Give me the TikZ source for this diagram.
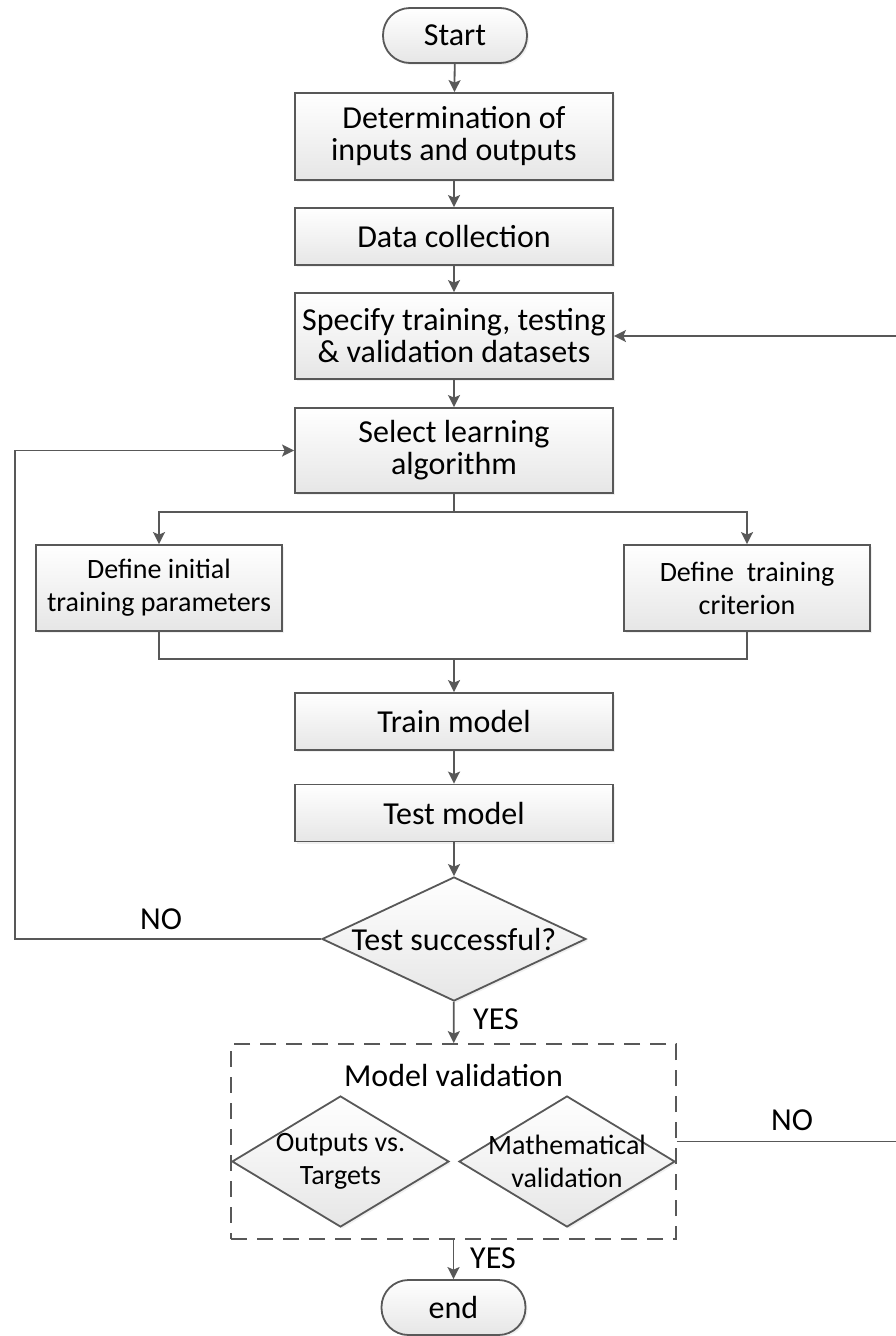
\documentclass[tikz,border=0pt]{standalone}
\usepackage{fontspec}
\setmainfont{Carlito}
\usepackage[dvipsnames,svgnames,x11names]{xcolor}
\usepackage{tikz}
\usetikzlibrary{shapes, arrows.meta, positioning, shadows}
\definecolor{lineG}{RGB}{88,88,88}
\definecolor{fillG}{RGB}{230,230,230}
\tikzset{
  shadeW/.style={draw=lineG, line width=1.8pt, top color=white, bottom color=fillG,
                 drop shadow={shadow xshift=2pt, shadow yshift=-2pt, opacity=0.12}},
  termW/.style={shadeW, rectangle, rounded corners=27pt, inner sep=2pt,
                minimum width=144pt, minimum height=55pt,
                font=\fontsize{32}{32}\selectfont},
  boxW/.style={shadeW, rectangle, inner sep=2pt, align=center,
               minimum width=318pt, font=\fontsize{32}{32}\selectfont},
  boxS/.style={shadeW, rectangle, inner sep=2pt, align=center,
               minimum width=246pt, minimum height=86pt,
               font=\fontsize{28}{33}\selectfont},
  decW/.style={shadeW, diamond, inner sep=0pt},
  valD/.style={rectangle, draw=lineG, line width=1.8pt, dash pattern=on 16pt off 10pt,
               minimum width=445pt, minimum height=195pt, inner sep=0pt},
  txt/.style={inner sep=0pt, font=\fontsize{32}{32}\selectfont},
  txtS/.style={inner sep=0pt, align=center, font=\fontsize{28}{33}\selectfont},
  line/.style={draw=lineG, line width=1.8pt},
  flow/.style={line, -{Stealth[length=12pt, width=12pt, inset=2.5pt]}},
}

\begin{document}
\begin{tikzpicture}[x=1pt, y=1pt]
    \useasboundingbox (0,0) rectangle (895,-1336);
    %% Main column
    \node[termW] (st) at (455,-35.5) {Start};
    \node[boxW, minimum height=87pt] (det) at (454,-136.5) {Determination of\\inputs and outputs};
    \node[boxW, minimum height=57pt] (dat) at (454,-236.5) {Data collection};
    \node[boxW, minimum height=86pt] (spec) at (454,-336) {Specify training, testing\\\& validation datasets};
    \node[boxW, minimum height=85pt] (sel) at (454,-450.5) {Select learning\\algorithm};
    %% Parameter boxes
    \node[boxS] (dfA) at (159,-588) {Define initial\\training parameters};
    \node[boxS] (dfB) at (747,-588) {Define~ training\\criterion};
    \node[boxW, minimum height=57pt] (trn) at (454,-721.5) {Train model};
    \node[boxW, minimum height=57pt] (tst) at (454,-813) {Test model};
    %% Decision
    \node[decW, minimum width=264pt, minimum height=124pt] (dec) at (454,-939) {};
    \node[txt] (decT) at (dec) {Test successful?};
    %% Validation block
    \node[valD] (val) at (453.5,-1141.5) {};
    \node[txt] (valT) at (453.5,-1075) {Model validation};
    \node[decW, minimum width=217pt, minimum height=131pt] (vA) at (340.5,-1161.5) {};
    \node[txtS] (vAT) at (vA) {Outputs vs.\\Targets};
    \node[decW, minimum width=216pt, minimum height=131pt] (vB) at (567,-1161.5) {};
    \node[txtS] (vBT) at (vB) {Mathematical\\validation};
    \node[termW] (fin) at (453.5,-1307.5) {end};
    %% Helper points
    \coordinate (split) at (454,-512);
    \coordinate (join) at (454,-659);
    \coordinate (noL) at (15,-939);
    \coordinate (noR) at (897,-1141.5);
    %% Straight arrows
    \foreach \a/\b in {st/det, det/dat, dat/spec, spec/sel, join/trn,
                       trn/tst, tst/dec, dec/val, val/fin}{
      \draw[flow] (\a) -- (\b);
    }
    %% Branch and merge
    \draw[flow] (sel) -- (split) -| (dfA);
    \draw[flow] (split) -| (dfB);
    \draw[line] (dfA) |- (join) -| (dfB);
    %% Feedback loops
    \draw[flow] (dec) -- (noL) |- (sel);
    \draw[flow] (val) -- (noR) |- (spec);
    %% Labels
    \node[txt] (no1) at (161,-919) {NO};
    \node[txt] (yes1) at (496,-1019) {YES};
    \node[txt] (no2) at (792,-1120) {NO};
    \node[txt] (yes2) at (493,-1258) {YES};
\end{tikzpicture}
\end{document}
